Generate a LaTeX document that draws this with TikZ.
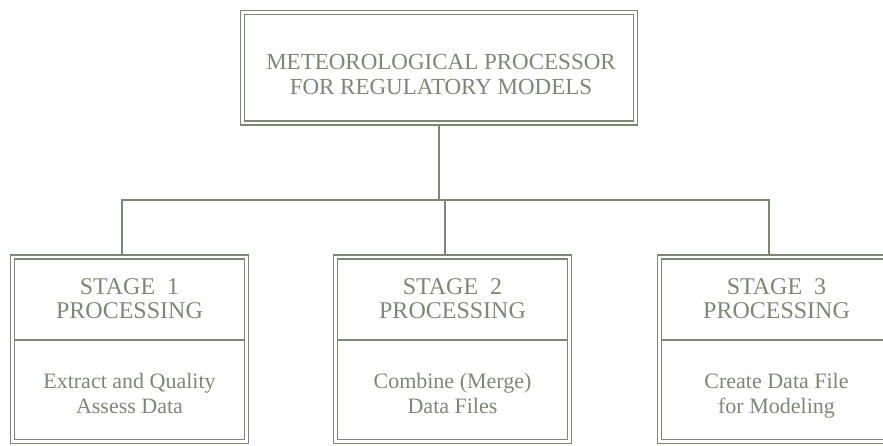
\documentclass[tikz,border=0pt]{standalone}
\usepackage{fontspec}
\setmainfont{Liberation Serif}
\definecolor{rule}{HTML}{7D8773}
\definecolor{ink}{HTML}{7F8678}
\begin{document}
\begin{tikzpicture}[x=1pt,y=1pt,
  dbox/.style={draw=rule, double=white, line width=1.7pt, double distance=2.3pt,
    rectangle, inner sep=0pt},
  conn/.style={draw=rule, line width=2pt},
  divider/.style={draw=rule, line width=2pt},
  lbl/.style={text=ink, font=\fontsize{22}{25}\selectfont, align=center, anchor=base, inner sep=0pt},
  title/.style={lbl, font=\fontsize{23}{25}\selectfont},
  head/.style={lbl, font=\fontsize{24}{23.3}\selectfont}]
  \useasboundingbox (0,0) rectangle (883,446);
  \clip (0,0) rectangle (883,446);

  % root box (base anchor sits on the last text line)
  \node[dbox, minimum width=393pt, minimum height=110.5pt] (top) at (439,378.25) {};
  \node[title] (toptext) at (441,351) {METEOROLOGICAL PROCESSOR\\FOR REGULATORY MODELS};

  % stage boxes
  \foreach \i/\cx/\hd/\bd in {
      1/129.5/STAGE\ \ 1/Extract and Quality\\Assess Data,
      2/452.5/STAGE\ \ 2/Combine (Merge)\\Data Files,
      3/776.5/STAGE\ \ 3/Create Data File\\for Modeling} {
    \node[dbox, minimum width=234pt, minimum height=184.5pt] (s\i) at (\cx,96.75) {};
    \draw[divider] ([xshift=2pt]s\i.west |- 0,106) -- ([xshift=-2pt]s\i.east |- 0,106);
    \node[head] (h\i) at (\cx,127.7) {\hd\\PROCESSING};
    \node[lbl] (b\i) at (\cx,32.7) {\bd};
  }

  % tree connectors
  \coordinate (bus) at (441,246);
  \draw[conn] (top.south) -- (top.south |- bus);
  \draw[conn] ([xshift=-8pt]s1.north) |- ([xshift=-8pt]s3.north |- bus) -- ([xshift=-8pt]s3.north);
  \draw[conn] ([xshift=-8pt]s2.north) -- ([xshift=-8pt]s2.north |- bus);
\end{tikzpicture}
\end{document}
